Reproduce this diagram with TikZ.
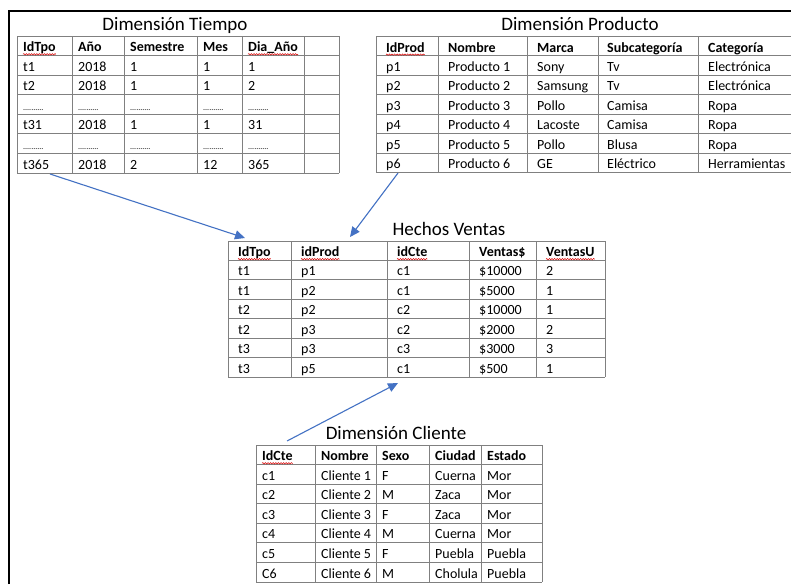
\documentclass[tikz,border=0pt]{standalone}
\usepackage{fontspec}
\setmainfont{Carlito}
\usetikzlibrary{arrows.meta,decorations.pathmorphing}
\newcommand{\mydots}{{\fontsize{8}{9}\selectfont ..........}}
\newcommand{\tabletext}[5]{%
  \foreach \rowdata [count=\ri from 0] in {#5} {
    \foreach \cell [count=\ci from 0] in \rowdata {
      \pgfmathsetmacro\xx{#2[\ci]}
      \pgfmathsetmacro\yy{#3+(\ri+1)*#4-3.9}
      \node[cell] (#1-\ri-\ci) at (\xx,\yy) {\ifnum\ri=0 \bfseries\fi\cell};
    }
  }
}
\definecolor{arrowblue}{HTML}{4472C4}
\begin{document}
\begin{tikzpicture}[x=1pt,y=-1pt,
  cell/.style={anchor=base west, inner sep=0pt, font=\fontsize{14}{16}\selectfont},
  title/.style={anchor=base, inner sep=0pt, font=\fontsize{19}{22}\selectfont},
  grid/.style={draw=black!50, line width=0.9pt},
  link/.style={draw=arrowblue, line width=1.1pt, -{Triangle[length=10pt,width=9pt]}},
  squig/.style={draw=red!85!black, line width=0.5pt, decorate, decoration={snake, amplitude=0.7pt, segment length=2.6pt}},
  frame/.style={draw=black, line width=2pt}]
\useasboundingbox (0,0) rectangle (791,584);
\fill[white] (0,0) rectangle (791,584);
% frame (top and left edges)
\draw[frame] (9,584) -- (9,11) -- (792,11);

% ---------- Dimension Tiempo ----------
\node[title] (titleT) at (175,30.5) {Dimensión Tiempo};
\foreach \x in {17,72,124,197,242,304,339} \draw[grid] (\x,36) -- (\x,173);
\foreach \i in {0,...,7} \draw[grid] (17,{36+\i*19.57}) -- (339,{36+\i*19.57});
\def\colsT{{23,78,130,203,248}}
\tabletext{T}{\colsT}{36}{19.57}{%
  {IdTpo,Año,Semestre,Mes,Dia\_Año},
  {t1,2018,1,1,1},
  {t2,2018,1,1,2},
  {\mydots,\mydots,\mydots,\mydots,\mydots},
  {t31,2018,1,1,31},
  {\mydots,\mydots,\mydots,\mydots,\mydots},
  {t365,2018,2,12,365}}

% ---------- Dimension Producto ----------
\node[title] (titleP) at (580,30.5) {Dimensión Producto};
\foreach \x in {376,438,527,598,698} \draw[grid] (\x,36.5) -- (\x,172.5);
\foreach \i in {0,...,7} \draw[grid] (376,{36.5+\i*19.43}) -- (792,{36.5+\i*19.43});
\def\colsP{{386,448,537,607,708}}
\tabletext{P}{\colsP}{36.5}{19.43}{%
  {IdProd,Nombre,Marca,Subcategoría,Categoría},
  {p1,Producto 1,Sony,Tv,Electrónica},
  {p2,Producto 2,Samsung,Tv,Electrónica},
  {p3,Producto 3,Pollo,Camisa,Ropa},
  {p4,Producto 4,Lacoste,Camisa,Ropa},
  {p5,Producto 5,Pollo,Blusa,Ropa},
  {p6,Producto 6,GE,Eléctrico,Herramientas}}

% ---------- Hechos Ventas ----------
\node[title] (titleH) at (449,235) {Hechos Ventas};
\foreach \x in {228,291,387,469,536,605} \draw[grid] (\x,241) -- (\x,377);
\foreach \i in {0,...,7} \draw[grid] (228,{241+\i*19.43}) -- (605,{241+\i*19.43});
\def\colsH{{238,301,397,479,546}}
\tabletext{H}{\colsH}{241}{19.43}{%
  {IdTpo,idProd,idCte,Ventas\$,VentasU},
  {t1,p1,c1,\$10000,2},
  {t1,p2,c1,\$5000,1},
  {t2,p2,c2,\$10000,1},
  {t2,p3,c2,\$2000,2},
  {t3,p3,c3,\$3000,3},
  {t3,p5,c1,\$500,1}}

% ---------- Dimension Cliente ----------
\node[title] (titleC) at (396,439.3) {Dimensión Cliente};
\foreach \x in {256,315,376,429,481,542} \draw[grid] (\x,445) -- (\x,582);
\foreach \i in {0,...,7} \draw[grid] (256,{445+\i*19.57}) -- (542,{445+\i*19.57});
\def\colsC{{262,321,382,435,487}}
\tabletext{C}{\colsC}{445}{19.57}{%
  {IdCte,Nombre,Sexo,Ciudad,Estado},
  {c1,Cliente 1,F,Cuerna,Mor},
  {c2,Cliente 2,M,Zaca,Mor},
  {c3,Cliente 3,F,Zaca,Mor},
  {c4,Cliente 4,M,Cuerna,Mor},
  {c5,Cliente 5,F,Puebla,Puebla},
  {C6,Cliente 6,M,Cholula,Puebla}}

% spell-check underlines
\foreach \n in {T-0-0,T-0-4,P-0-0,H-0-0,H-0-1,H-0-2,H-0-4,C-0-0}
  \draw[squig] ([yshift=-2.6pt]\n.base west) -- ([yshift=-2.6pt]\n.base east);

% connectors
\coordinate (aT) at (50,174);
\coordinate (aTend) at (245,238);
\coordinate (aP) at (398,173);
\coordinate (aPend) at (350,237);
\coordinate (aC) at (287,441);
\coordinate (aCend) at (398,383);
\draw[link] (aT) -- (aTend);
\draw[link] (aP) -- (aPend);
\draw[link] (aC) -- (aCend);
\end{tikzpicture}
\end{document}
